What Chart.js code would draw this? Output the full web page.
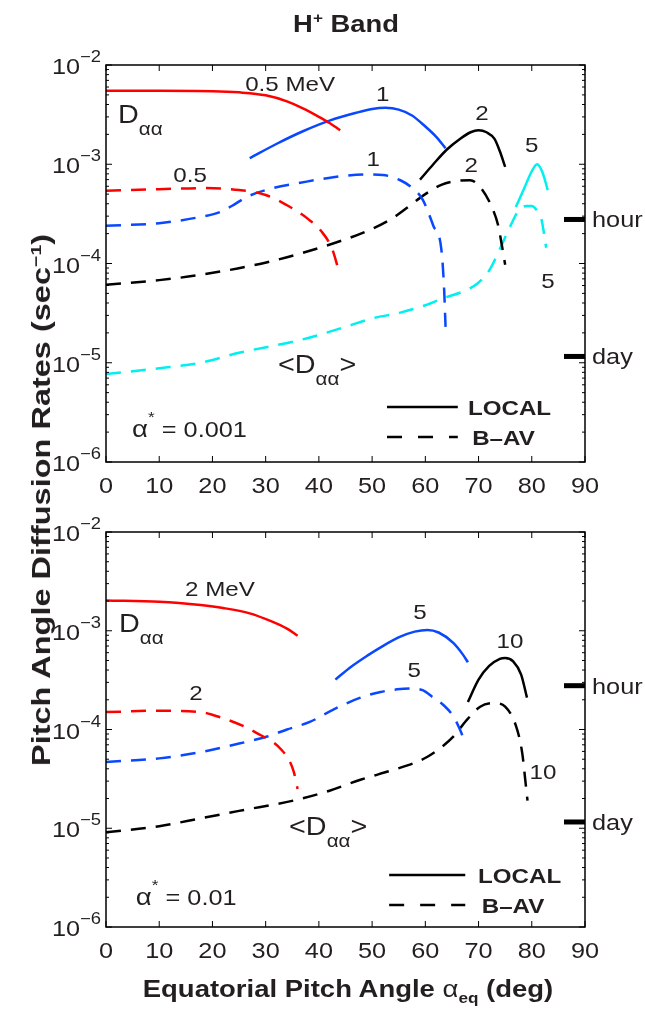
<!DOCTYPE html>
<html>
<head>
<meta charset="utf-8">
<script src="https://cdn.jsdelivr.net/npm/chart.js@4.4.1/dist/chart.umd.min.js"></script>
<style>
  html, body { margin: 0; padding: 0; background: #fff; }
  body { width: 645px; height: 1017px; position: relative; overflow: hidden;
         font-family: 'Liberation Sans', Arial, Helvetica, sans-serif; color: #231f20; }
  canvas { position: absolute; left: 0; }
  #top { top: 0; }
  #bottom { top: 500px; }
  .txt { position: absolute; white-space: nowrap; font-weight: bold; font-size: 24px; line-height: 24px; z-index: 2; }
  .txt sup, .txt sub { font-size: 15px; line-height: 0; }
  #title { left: 346px; top: 12px; transform: translateX(-50%) scaleX(1.14); }
  #xtitle { left: 348px; top: 977px; transform: translateX(-50%) scaleX(1.145); }
  #ytitle { left: 41px; top: 500px; font-size: 25px; transform: translate(-50%, -50%) rotate(-90deg) scaleX(1.3); }
  .greek { font-weight: normal; }
</style>
</head>
<body>
<div id="title" class="txt">H<sup>+</sup> Band</div>
<div id="ytitle" class="txt">Pitch Angle Diffusion Rates (sec<sup>−1</sup>)</div>
<div id="xtitle" class="txt">Equatorial Pitch Angle <span class="greek">α</span><sub>eq</sub> (deg)</div>
<canvas id="top" width="645" height="500"></canvas>
<canvas id="bottom" width="645" height="517"></canvas>
<script>
// ---- axis labels ----
const xTickLabels = ['0', '10', '20', '30', '40', '50', '60', '70', '80', '90'];
const yExponents = ['−6', '−5', '−4', '−3', '−2'];
const rateMarks = [1 / 3600, 1 / 86400];
const rateLabels = ['hour', 'day'];

// ---- top panel (alpha* = 0.001), local ----
const degA05Loc = [0, 10, 20, 25, 30, 34, 37, 40, 42, 44];
const rateA05Loc = [5.5e-3, 5.5e-3, 5.45e-3, 5.3e-3, 4.95e-3, 4.3e-3, 3.65e-3, 3.0e-3, 2.6e-3, 2.2e-3];
const degA1Loc = [27, 32, 37, 42, 47, 50, 52.5, 55, 57.5, 60, 62, 63.8];
const rateA1Loc = [1.15e-3, 1.6e-3, 2.15e-3, 2.75e-3, 3.3e-3, 3.6e-3, 3.7e-3, 3.55e-3, 3.1e-3, 2.4e-3, 1.9e-3, 1.45e-3];
const degA2Loc = [59, 61.5, 64, 66.5, 68.5, 70, 71.5, 73, 74, 75];
const rateA2Loc = [7e-4, 1.0e-3, 1.4e-3, 1.8e-3, 2.1e-3, 2.2e-3, 2.1e-3, 1.8e-3, 1.35e-3, 9.4e-4];
const degA5Loc = [77, 78.5, 80, 81, 82, 83];
const rateA5Loc = [3.7e-4, 5.6e-4, 8.5e-4, 1.0e-3, 8.3e-4, 5.5e-4];

// ---- top panel, bounce averaged ----
const degA05Bav = [0, 10, 18, 25, 30, 35, 38, 40.5, 42.5, 43.7];
const rateA05Bav = [5.4e-4, 5.6e-4, 5.75e-4, 5.5e-4, 4.9e-4, 3.6e-4, 2.8e-4, 2.1e-4, 1.4e-4, 8.6e-5];
const degA1Bav = [0, 10, 17.8, 21.4, 24, 26.5, 31.4, 36.5, 42.7, 49, 52, 55.3, 57.5, 59.5, 61.5, 63, 63.5, 63.8];
const rateA1Bav = [2.4e-4, 2.55e-4, 2.95e-4, 3.3e-4, 3.9e-4, 4.7e-4, 5.75e-4, 6.5e-4, 7.4e-4, 7.9e-4, 7.8e-4, 6.9e-4, 5.8e-4, 4.4e-4, 2.4e-4, 1.4e-4, 6e-5, 2.3e-5];
const degA2Bav = [0, 10, 17.8, 30.3, 42.8, 49.7, 54, 57, 60, 63, 66, 68.4, 70.3, 72.5, 73.7, 74.4, 75];
const rateA2Bav = [6.1e-5, 6.8e-5, 7.7e-5, 1.03e-4, 1.6e-4, 2.2e-4, 2.9e-4, 3.8e-4, 5.0e-4, 6.2e-4, 6.8e-4, 6.9e-4, 5.9e-4, 3.7e-4, 2.4e-4, 1.5e-4, 9.7e-5];
const degA5Bav = [0, 10, 17.8, 25, 36.6, 45, 50, 55.3, 60, 63.5, 67, 69.8, 72, 74, 76, 77.5, 79, 80, 81, 81.8, 82.3, 82.7];
const rateA5Bav = [7.7e-6, 8.8e-6, 1.0e-5, 1.26e-5, 1.7e-5, 2.3e-5, 2.8e-5, 3.2e-5, 3.8e-5, 4.5e-5, 5.2e-5, 6.3e-5, 8.5e-5, 1.4e-4, 2.4e-4, 3.4e-4, 3.8e-4, 3.8e-4, 3.4e-4, 2.8e-4, 2.0e-4, 1.44e-4];

// ---- bottom panel (alpha* = 0.01), local ----
const degB2Loc = [0, 10, 17.8, 22, 27, 31, 34, 36];
const rateB2Loc = [2.03e-3, 1.97e-3, 1.82e-3, 1.7e-3, 1.5e-3, 1.25e-3, 1.05e-3, 8.9e-4];
const degB5Loc = [43.1, 46, 49.1, 52, 55.3, 58, 60.4, 62.5, 65.3, 67, 68];
const rateB5Loc = [3.2e-4, 4.3e-4, 5.6e-4, 7.0e-4, 8.7e-4, 9.8e-4, 1.02e-3, 9.6e-4, 7.5e-4, 5.8e-4, 4.8e-4];
const degB10Loc = [68, 70, 72, 74, 75, 76.5, 78, 79.1];
const rateB10Loc = [1.9e-4, 3.2e-4, 4.4e-4, 5.2e-4, 5.3e-4, 4.9e-4, 3.6e-4, 2.1e-4];

// ---- bottom panel, bounce averaged ----
const degB2Bav = [0, 10, 17.8, 22, 26, 29, 31.6, 33, 34.4, 35.3, 36];
const rateB2Bav = [1.5e-4, 1.55e-4, 1.5e-4, 1.3e-4, 1.07e-4, 8.8e-5, 7.3e-5, 6.2e-5, 4.9e-5, 3.7e-5, 2.5e-5];
const degB5Bav = [0, 10, 17.8, 25, 30.3, 34, 38.4, 42.8, 47.8, 51.6, 54.7, 57.2, 59.5, 61.5, 63.5, 65.3, 66.5, 67.5];
const rateB5Bav = [4.7e-5, 5.1e-5, 5.9e-5, 7.2e-5, 8.5e-5, 1.0e-4, 1.2e-4, 1.6e-4, 2.1e-4, 2.4e-4, 2.55e-4, 2.6e-4, 2.5e-4, 2.1e-4, 1.75e-4, 1.35e-4, 1.0e-4, 7.3e-5];
const degB10Bav = [0, 10, 17.8, 25, 36, 42, 47.8, 54, 58, 60.4, 63, 65.3, 67.8, 70.3, 73, 75, 77, 78.2, 78.8, 79.2];
const rateB10Bav = [9.1e-6, 1.05e-5, 1.26e-5, 1.5e-5, 1.95e-5, 2.4e-5, 3.1e-5, 3.9e-5, 4.6e-5, 5.3e-5, 6.6e-5, 8.5e-5, 1.25e-4, 1.7e-4, 1.85e-4, 1.7e-4, 1.1e-4, 5.8e-5, 3e-5, 1.9e-5];

const FONT = "'Liberation Sans', Arial, Helvetica, sans-serif";
const INK = '#231f20';
const RED = '#ff0000', BLUE = '#0a48ff', BLACK = '#000000', CYAN = '#00f0f0';
const DASH = [15, 10];
const SX = 1.15; // the source lettering is a little wider than Liberation Sans

function series(xs, ys, color, dashed) {
  return {
    data: xs.map((x, i) => ({ x: x, y: ys[i] })),
    borderColor: color,
    borderWidth: 2.5,
    borderDash: dashed ? DASH : [],
    pointRadius: 0,
    fill: false,
    cubicInterpolationMode: 'monotone'
  };
}

// draws text made of pieces [text, size, dy, bold], stretched by SX
function rich(ctx, x, y, parts, align) {
  const font = p => (p[3] ? 'bold ' : '') + p[1] + 'px ' + FONT;
  let w = 0;
  parts.forEach(p => { ctx.font = font(p); w += ctx.measureText(p[0]).width; });
  const sw = w * SX;
  const start = align === 'center' ? x - sw / 2 : align === 'right' ? x - sw : x;
  ctx.save();
  ctx.textAlign = 'left';
  ctx.textBaseline = 'alphabetic';
  ctx.translate(start, y);
  ctx.scale(SX, 1);
  let cx = 0;
  parts.forEach(p => {
    ctx.font = font(p);
    ctx.fillText(p[0], cx, p[2] || 0);
    cx += ctx.measureText(p[0]).width;
  });
  ctx.restore();
}

function buildLogTicks(scale) {
  const t = [];
  for (let e = -6; e <= -2; e++) {
    for (let m = 1; m <= 9; m++) {
      if (e === -2 && m > 1) break;
      t.push({ value: m * Math.pow(10, e), major: m === 1 });
    }
  }
  scale.ticks = t;
}

const decor = {
  id: 'decor',
  afterDraw(chart, args, opts) {
    const { ctx, chartArea: a } = chart;
    const x = chart.scales.x, y = chart.scales.y;
    ctx.save();
    ctx.strokeStyle = '#000';
    ctx.lineWidth = 1.5;
    ctx.strokeRect(a.left, a.top, a.right - a.left, a.bottom - a.top);

    ctx.beginPath();
    y.ticks.forEach(t => {
      const py = y.getPixelForValue(t.value);
      const len = t.major ? 6 : 3;
      ctx.moveTo(a.left, py); ctx.lineTo(a.left + len, py);
      ctx.moveTo(a.right, py); ctx.lineTo(a.right - len, py);
    });
    x.ticks.forEach(t => {
      const px = x.getPixelForValue(t.value);
      ctx.moveTo(px, a.bottom); ctx.lineTo(px, a.bottom - 6);
      ctx.moveTo(px, a.top); ctx.lineTo(px, a.top + 6);
    });
    ctx.lineWidth = 1;
    ctx.stroke();

    ctx.fillStyle = INK;
    // x tick labels
    x.ticks.forEach((t, i) => {
      rich(ctx, x.getPixelForValue(t.value), a.bottom + 31, [[xTickLabels[i], 22]], 'center');
    });
    // y tick labels 10^n
    y.ticks.filter(t => t.major).forEach((t, i) => {
      const py = y.getPixelForValue(t.value);
      rich(ctx, a.left - 5, py + 9, [['10', 22], [yExponents[i], 16, -12]], 'right');
    });

    // hour / day marks
    rateMarks.forEach((v, i) => {
      const py = y.getPixelForValue(v);
      ctx.fillStyle = '#000';
      ctx.fillRect(a.right - 21, py - 2.5, 21, 5);
      ctx.fillStyle = INK;
      rich(ctx, a.right + 7, py + 8, [[rateLabels[i], 22]], 'left');
    });

    // text annotations
    opts.labels.forEach(l => {
      rich(ctx, x.getPixelForValue(l.x), y.getPixelForValue(l.y), l.parts, l.align);
    });

    // legend
    opts.legend.forEach(g => {
      const py = y.getPixelForValue(g.y);
      ctx.strokeStyle = '#000';
      ctx.lineWidth = 2.5;
      ctx.setLineDash(g.dash ? [15, 16] : []);
      ctx.beginPath();
      ctx.moveTo(x.getPixelForValue(g.x0), py);
      ctx.lineTo(x.getPixelForValue(g.x1), py);
      ctx.stroke();
      ctx.setLineDash([]);
      rich(ctx, x.getPixelForValue(g.tx), y.getPixelForValue(g.ty), [[g.text, 21, 0, true]], 'left');
    });
    ctx.restore();
  }
};

function makePanel(id, topPad, xAxisHeight, datasets, labels, legend) {
  return new Chart(document.getElementById(id), {
    type: 'line',
    data: { datasets: datasets },
    plugins: [decor],
    options: {
      responsive: false,
      animation: false,
      devicePixelRatio: 1,
      layout: { padding: { top: topPad, right: 60, bottom: 0, left: 0 } },
      plugins: {
        legend: { display: false },
        tooltip: { enabled: false },
        decor: { labels: labels, legend: legend }
      },
      scales: {
        x: {
          type: 'linear', min: 0, max: 90,
          grid: { display: false, drawTicks: false },
          border: { display: false },
          ticks: { stepSize: 10, autoSkip: false, display: false },
          afterFit: s => { s.height = xAxisHeight; }
        },
        y: {
          type: 'logarithmic', min: 1e-6, max: 1e-2,
          grid: { display: false, drawTicks: false },
          border: { display: false },
          ticks: { display: false },
          afterBuildTicks: buildLogTicks,
          afterFit: s => { s.width = 106; }
        }
      }
    }
  });
}

const alphaStar = (val) => [['α', 24], ['*', 15, -15], [' = ' + val, 22]];
const dSub = [['D', 25], ['αα', 18, 12]];
const dAvg = [['<D', 25], ['αα', 18, 12], ['>', 25]];

makePanel('top', 65, 38, [
  series(degA05Loc, rateA05Loc, RED, false),
  series(degA1Loc, rateA1Loc, BLUE, false),
  series(degA2Loc, rateA2Loc, BLACK, false),
  series(degA5Loc, rateA5Loc, CYAN, false),
  series(degA05Bav, rateA05Bav, RED, true),
  series(degA1Bav, rateA1Bav, BLUE, true),
  series(degA2Bav, rateA2Bav, BLACK, true),
  series(degA5Bav, rateA5Bav, CYAN, true)
], [
  { x: 34.6, y: 5.47e-3, align: 'center', parts: [['0.5 MeV', 21]] },
  { x: 52.0, y: 4.38e-3, align: 'center', parts: [['1', 21]] },
  { x: 70.65, y: 2.76e-3, align: 'center', parts: [['2', 21]] },
  { x: 80.0, y: 1.34e-3, align: 'center', parts: [['5', 21]] },
  { x: 2.25, y: 2.61e-3, align: 'left', parts: dSub },
  { x: 15.8, y: 6.62e-4, align: 'center', parts: [['0.5', 21]] },
  { x: 50.2, y: 9.7e-4, align: 'center', parts: [['1', 21]] },
  { x: 68.6, y: 8.26e-4, align: 'center', parts: [['2', 21]] },
  { x: 83.05, y: 5.6e-5, align: 'center', parts: [['5', 21]] },
  { x: 32.3, y: 7.88e-6, align: 'left', parts: dAvg },
  { x: 4.9, y: 1.79e-6, align: 'left', parts: alphaStar('0.001') }
], [
  { x0: 52.8, x1: 66.1, y: 3.58e-6, tx: 68.0, ty: 3.01e-6, text: 'LOCAL' },
  { x0: 52.8, x1: 66.1, y: 1.79e-6, dash: true, tx: 68.8, ty: 1.5e-6, text: 'B–AV' }
]);

makePanel('bottom', 32, 90, [
  series(degB2Loc, rateB2Loc, RED, false),
  series(degB5Loc, rateB5Loc, BLUE, false),
  series(degB10Loc, rateB10Loc, BLACK, false),
  series(degB2Bav, rateB2Bav, RED, true),
  series(degB5Bav, rateB5Bav, BLUE, true),
  series(degB10Bav, rateB10Bav, BLACK, true)
], [
  { x: 21.4, y: 2.25e-3, align: 'center', parts: [['2 MeV', 21]] },
  { x: 2.44, y: 9.7e-4, align: 'left', parts: dSub },
  { x: 16.9, y: 1.99e-4, align: 'center', parts: [['2', 21]] },
  { x: 59.0, y: 1.3e-3, align: 'center', parts: [['5', 21]] },
  { x: 57.9, y: 3.44e-4, align: 'center', parts: [['5', 21]] },
  { x: 75.9, y: 6.76e-4, align: 'center', parts: [['10', 21]] },
  { x: 82.1, y: 3.12e-5, align: 'center', parts: [['10', 21]] },
  { x: 34.4, y: 8.55e-6, align: 'left', parts: dAvg },
  { x: 5.6, y: 1.67e-6, align: 'left', parts: alphaStar('0.01') }
], [
  { x0: 53.2, x1: 67.5, y: 3.37e-6, tx: 69.9, ty: 2.82e-6, text: 'LOCAL' },
  { x0: 53.2, x1: 67.5, y: 1.67e-6, dash: true, tx: 70.6, ty: 1.4e-6, text: 'B–AV' }
]);
</script>
</body>
</html>
